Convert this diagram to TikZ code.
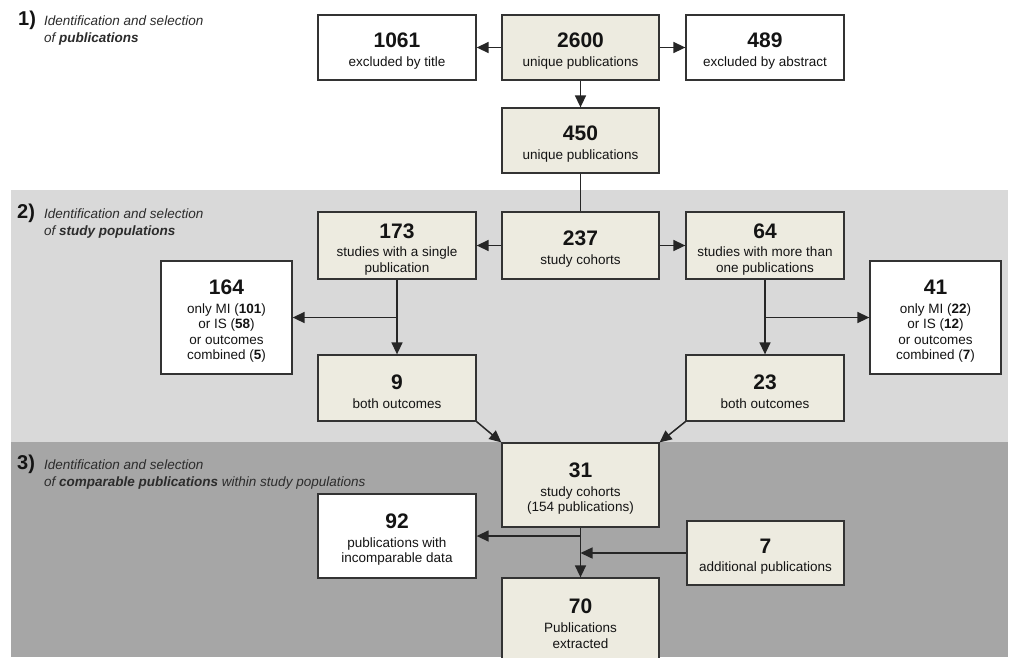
\documentclass[tikz,border=0pt]{standalone}
\usepackage{fontspec}
\setmainfont{Liberation Sans}
\usetikzlibrary{arrows.meta}
\definecolor{boxfill}{RGB}{237,235,224}
\definecolor{bandA}{RGB}{217,217,217}
\definecolor{bandB}{RGB}{166,166,166}
\definecolor{edge}{RGB}{51,51,51}
\definecolor{ink}{RGB}{20,20,20}
\newcommand{\numf}{\fontsize{21}{23}\selectfont\bfseries}
\newcommand{\nm}[1]{{\numf\rule{0pt}{22pt}#1}}
\tikzset{
  box/.style={draw=edge, line width=1.3pt, fill=boxfill, minimum width=157pt,
    minimum height=65pt, inner sep=0pt, align=center,
    font=\fontsize{13.5}{15.6}\selectfont, text=ink},
  wbox/.style={box, fill=white},
  conn/.style={draw=black!85, line width=1.5pt},
  arr/.style={conn, -{Triangle[length=12pt,width=11pt]}},
  secnum/.style={font=\fontsize{20}{22}\selectfont\bfseries, anchor=base west,
    inner sep=0pt, text=ink},
  sectxt/.style={font=\fontsize{13.5}{17}\selectfont\itshape, anchor=base west,
    inner sep=0pt, text=ink!90},
}
\begin{document}
\begin{tikzpicture}[x=1pt,y=-1pt]
\useasboundingbox (0,0) rectangle (1009,657);
\clip (0,0) rectangle (1009,657);
\fill[white] (0,0) rectangle (1009,657);
\fill[bandA] (11,190) rectangle (1008,442);
\fill[bandB] (11,442) rectangle (1008,657);

% section labels
\node[secnum] (s1n) at (18,25) {1)};
\node[sectxt] (s1a) at (44,25) {Identification and selection};
\node[sectxt] (s1b) at (44,42) {of \textbf{publications}};
\node[secnum] (s2n) at (17,218) {2)};
\node[sectxt] (s2a) at (44,218) {Identification and selection};
\node[sectxt] (s2b) at (44,235) {of \textbf{study populations}};
\node[secnum] (s3n) at (17,469) {3)};
\node[sectxt] (s3a) at (44,469) {Identification and selection};
\node[sectxt] (s3b) at (44,486) {of \textbf{comparable publications} within study populations};

% boxes
\node[wbox, minimum width=158pt] (b1061) at (397,47.5) {\nm{1061}\\[3pt]excluded by title};
\node[box] (b2600) at (580.5,47.5) {\nm{2600}\\[3pt]unique publications};
\node[wbox, minimum width=158pt] (b489) at (765,47.5) {\nm{489}\\[3pt]excluded by abstract};
\node[box] (b450) at (580.5,140.5) {\nm{450}\\[3pt]unique publications};

\node[box, minimum width=158pt, minimum height=67pt] (b173) at (397,245.5) {\nm{173}\\[3pt]studies with a single\\publication};
\node[box, minimum height=67pt] (b237) at (580.5,245.5) {\nm{237}\\[3pt]study cohorts};
\node[box, minimum width=158pt, minimum height=67pt] (b64) at (765,245.5) {\nm{64}\\[3pt]studies with more than\\one publications};

\node[wbox, minimum width=131pt, minimum height=113pt] (b164) at (226.5,317.5) {\nm{164}\\[3pt]only MI (\textbf{101})\\or IS (\textbf{58})\\or outcomes\\combined (\textbf{5})};
\node[wbox, minimum width=131pt, minimum height=113pt] (b41) at (935.5,317.5) {\nm{41}\\[3pt]only MI (\textbf{22})\\or IS (\textbf{12})\\or outcomes\\combined (\textbf{7})};

\node[box, minimum width=158pt, minimum height=66pt] (b9) at (397,388) {\nm{9}\\[3pt]both outcomes};
\node[box, minimum width=158pt, minimum height=66pt] (b23) at (765,388) {\nm{23}\\[3pt]both outcomes};

\node[box, minimum height=84pt] (b31) at (580.5,485) {\nm{31}\\[3pt]study cohorts\\(154 publications)};
\node[wbox, minimum width=158pt, minimum height=84pt] (b92) at (397,536) {\nm{92}\\[3pt]publications with\\incomparable data};
\node[box, minimum height=64pt] (b7) at (765.5,553) {\nm{7}\\[3pt]additional publications};
\node[box, minimum height=84pt] (b70) at (580.5,620) {\nm{70}\\[3pt]Publications\\extracted};

% junctions
\coordinate (j1) at (b173.south |- b164.east);
\coordinate (j2) at (b64.south |- b41.west);
\coordinate (j3) at (b31.south |- b92.east);
\coordinate (j4) at (b31.south |- b7.west);

% connectors
\draw[arr] (b2600.west) -- (b1061.east);
\draw[arr] (b2600.east) -- (b489.west);
\draw[arr] (b2600.south) -- (b450.north);
\draw[conn] (b450.south) -- (b237.north);
\draw[arr] (b237.west) -- (b173.east);
\draw[arr] (b237.east) -- (b64.west);
\draw[conn] (b173.south) -- (j1);
\draw[arr] (j1) -- (b9.north);
\draw[arr] (j1) -- (b164.east);
\draw[conn] (b64.south) -- (j2);
\draw[arr] (j2) -- (b23.north);
\draw[arr] (j2) -- (b41.west);
\draw[arr] (b9.south east) -- (b31.north west);
\draw[arr] (b23.south west) -- (b31.north east);
\draw[conn] (b31.south) -- (j3);
\draw[arr] (j3) -- (b70.north);
\draw[arr] (j3) -- (b92.east);
\draw[arr] (b7.west) -- (j4);
\end{tikzpicture}
\end{document}
